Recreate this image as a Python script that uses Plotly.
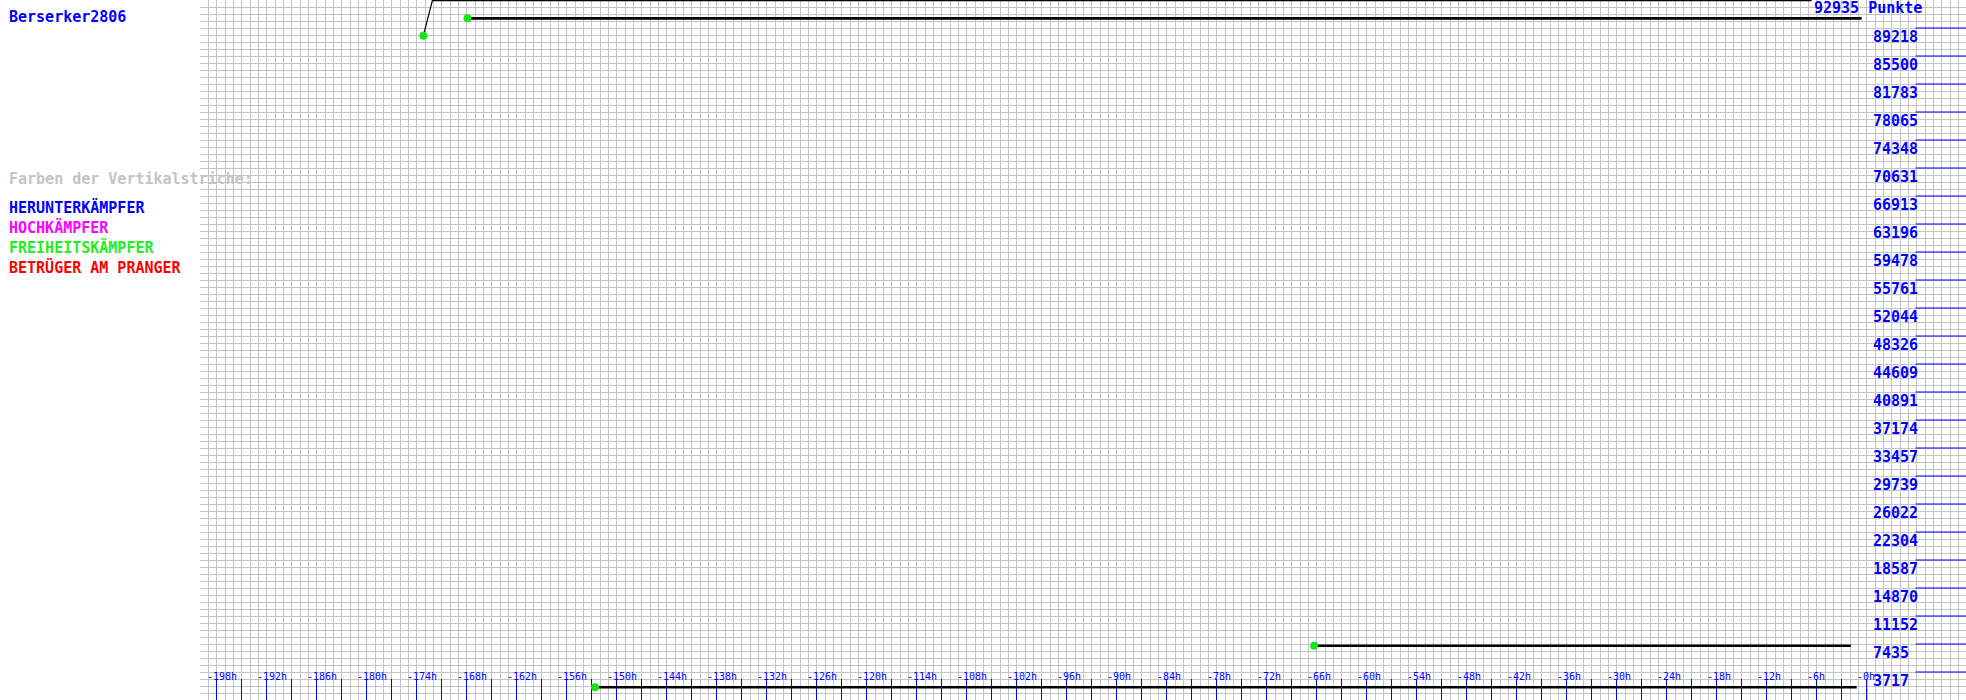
import plotly.graph_objects as go

# ---------------- data ----------------
player_name = "Berserker2806"
current_points_label = "92935 Punkte"
y_max = 92935

# each segment: hours before now, points
seg1_h = [-173.2, -172.1, -6.6]
seg1_v = [88200, 92935, 92935]
seg2_h = [-167.9, -0.6]
seg2_v = [90500, 90500]
seg3_h = [-152.6, -1.2]
seg3_v = [1690, 1690]
seg4_h = [-66.3, -1.9]
seg4_v = [7200, 7200]

y_tick_values = [89218, 85500, 81783, 78065, 74348, 70631, 66913, 63196, 59478,
                 55761, 52044, 48326, 44609, 40891, 37174, 33457, 29739, 26022,
                 22304, 18587, 14870, 11152, 7435, 3717]
y_tick_labels = ["89218", "85500", "81783", "78065", "74348", "70631", "66913",
                 "63196", "59478", "55761", "52044", "48326", "44609", "40891",
                 "37174", "33457", "29739", "26022", "22304", "18587", "14870",
                 "11152", "7435", "3717"]

x_tick_hours = [-198, -195, -192, -189, -186, -183, -180, -177, -174, -171, -168,
                -165, -162, -159, -156, -153, -150, -147, -144, -141, -138, -135,
                -132, -129, -126, -123, -120, -117, -114, -111, -108, -105, -102,
                -99, -96, -93, -90, -87, -84, -81, -78, -75, -72, -69, -66, -63,
                -60, -57, -54, -51, -48, -45, -42, -39, -36, -33, -30, -27, -24,
                -21, -18, -15, -12, -9, -6, -3, 0]
x_label_hours = [-198, -192, -186, -180, -174, -168, -162, -156, -150, -144, -138,
                 -132, -126, -120, -114, -108, -102, -96, -90, -84, -78, -72, -66,
                 -60, -54, -48, -42, -36, -30, -24, -18, -12, -6, 0]
x_labels = ["-198h", "-192h", "-186h", "-180h", "-174h", "-168h", "-162h", "-156h",
            "-150h", "-144h", "-138h", "-132h", "-126h", "-120h", "-114h", "-108h",
            "-102h", "-96h", "-90h", "-84h", "-78h", "-72h", "-66h", "-60h", "-54h",
            "-48h", "-42h", "-36h", "-30h", "-24h", "-18h", "-12h", "-6h", "-0h"]

legend_title = "Farben der Vertikalstriche:"
legend_items = ["HERUNTERKÄMPFER", "HOCHKÄMPFER", "FREIHEITSKÄMPFER", "BETRÜGER AM PRANGER"]
legend_colors = ["#0000ff", "#ff00ff", "#22ee22", "#ff0000"]

# ---------------- layout constants ----------------
W, H = 1966, 700
PLOT_LEFT = 200
ZERO_H_PX = 1866.7
PX_PER_H = 8.3333
x_range = [-200, (W - ZERO_H_PX) / PX_PER_H]
MONO = "DejaVu Sans Mono"
BLUE = "#0000ff"
GRID = "#c4c4c4"
DOT = "#18e418"

fig = go.Figure()

def seg_trace(xs, ys, width):
    fig.add_trace(go.Scatter(
        x=xs, y=ys, mode="lines", line=dict(color="black", width=width),
        hoverinfo="skip", showlegend=False))

seg_trace(seg1_h[:2], seg1_v[:2], 1.2)
seg_trace(seg1_h[1:], seg1_v[1:], 2.5)
seg_trace(seg2_h, seg2_v, 2.6)
seg_trace(seg3_h, seg3_v, 2.6)
seg_trace(seg4_h, seg4_v, 2.6)

# green start dots
fig.add_trace(go.Scatter(
    x=[seg1_h[0], seg2_h[0], seg3_h[0], seg4_h[0]],
    y=[seg1_v[0], seg2_v[0], seg3_v[0], seg4_v[0]],
    mode="markers", marker=dict(color=DOT, size=8, line=dict(width=0)),
    hoverinfo="skip", showlegend=False, cliponaxis=False))

annotations = []

def left_text(text, cap_top, color):
    annotations.append(dict(
        text="<b>" + text + "</b>", xref="paper", yref="paper", x=9 / W,
        y=1 - (cap_top - 3) / H, xanchor="left", yanchor="top", showarrow=False,
        borderpad=0, borderwidth=0, font=dict(family=MONO, size=15, color=color)))

left_text(player_name, 11.5, BLUE)
left_text(legend_title, 172.7, "#c4c4c4")
for txt, col, top in zip(legend_items, legend_colors, [200.5, 221.0, 241.0, 260.5]):
    left_text(txt, top, col)

# right y labels
for v, lab in zip(y_tick_values, y_tick_labels):
    annotations.append(dict(
        text="<b>" + lab + "</b>", xref="paper", yref="y", x=1873 / W, y=v,
        xanchor="left", yanchor="top", yshift=0, showarrow=False, borderpad=0,
        borderwidth=0, font=dict(family=MONO, size=15, color=BLUE)))
annotations.append(dict(
    text="<b>" + current_points_label + "</b>", xref="paper", yref="y", x=1814 / W,
    y=y_max, xanchor="left", yanchor="top", yshift=1.3, showarrow=False, borderpad=0,
    borderwidth=0, font=dict(family=MONO, size=15, color=BLUE)))

# x labels
for hh, lab in zip(x_label_hours, x_labels):
    annotations.append(dict(
        text=lab, xref="x", yref="paper", x=hh, y=1 - 671.0 / H, xanchor="left",
        xshift=-10, yanchor="top", showarrow=False, borderpad=0, borderwidth=0,
        font=dict(family=MONO, size=10, color=BLUE)))

shapes = []
for v in y_tick_values:
    shapes.append(dict(type="line", xref="paper", yref="y", x0=1915.5 / W, x1=1,
                       y0=v, y1=v, line=dict(color=BLUE, width=1), layer="above"))
# taller "now" tick
shapes.append(dict(type="line", xref="x", yref="paper", x0=0, x1=0, y0=0,
                   y1=(H - 671.7) / H, line=dict(color=BLUE, width=1), layer="below"))

fig.update_layout(
    width=W, height=H, margin=dict(l=0, r=0, t=0, b=0),
    paper_bgcolor="white", plot_bgcolor="white",
    annotations=annotations, shapes=shapes, showlegend=False,
    xaxis=dict(
        domain=[PLOT_LEFT / W, 1], range=x_range, showticklabels=False,
        tickmode="array", tickvals=x_tick_hours, ticks="inside", ticklen=21,
        tickcolor=BLUE, tickwidth=1, showgrid=True, gridcolor=GRID, gridwidth=1,
        zeroline=False, showline=False, layer="below traces",
        minor=dict(tickmode="linear", tick0=0, dtick=1, showgrid=True,
                   gridcolor=GRID, gridwidth=1, ticks=""),
    ),
    yaxis=dict(
        domain=[0, 1], range=[0, y_max], showticklabels=False, ticks="",
        tickmode="linear", tick0=0, dtick=y_max / 100, showgrid=True,
        gridcolor=GRID, gridwidth=1, zeroline=False, showline=False,
    ),
)

fig.write_html("out.html")
